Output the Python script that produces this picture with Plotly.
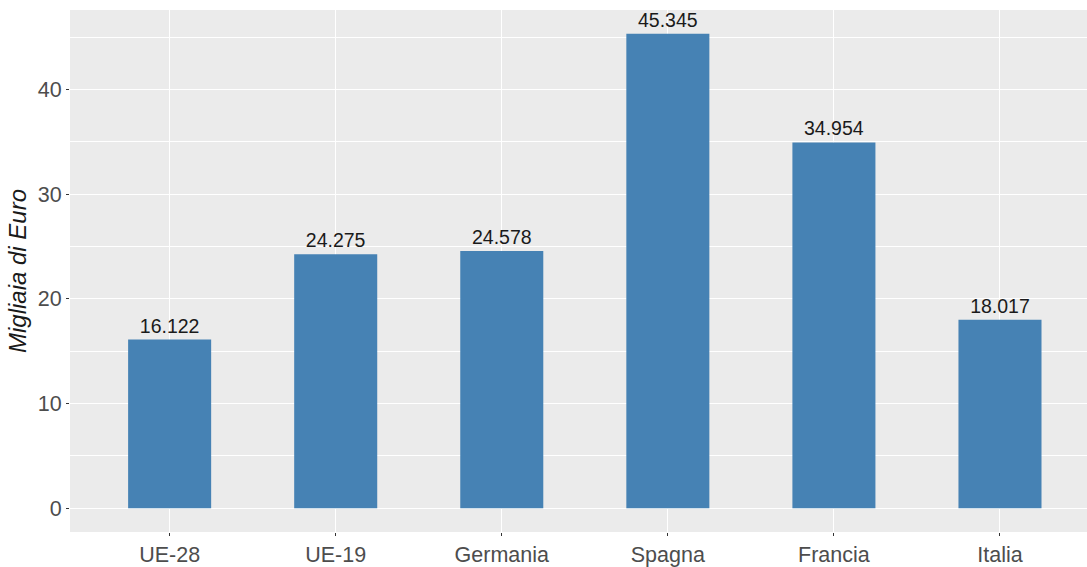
import plotly.graph_objects as go

# Reddito medio per paese (migliaia di euro)
paesi = ["UE-28", "UE-19", "Germania", "Spagna", "Francia", "Italia"]
valori = [16.122, 24.275, 24.578, 45.345, 34.954, 18.017]
etichette = ["16.122", "24.275", "24.578", "45.345", "34.954", "18.017"]
tick_y = [0, 10, 20, 30, 40]

fig = go.Figure(
    go.Bar(
        x=paesi,
        y=valori,
        width=0.5,
        marker=dict(color="#4682B4", line=dict(width=0)),
        text=etichette,
        textposition="outside",
        textfont=dict(family="Liberation Sans, Arial, sans-serif", size=19.5, color="#1a1a1a"),
        cliponaxis=False,
        hoverinfo="x+y",
    )
)

fig.update_layout(
    width=1087,
    height=567,
    margin=dict(l=70, r=0, t=10, b=27),
    paper_bgcolor="white",
    plot_bgcolor="#EBEBEB",
    showlegend=False,
    font=dict(family="Liberation Sans, Arial, sans-serif"),
)

fig.update_xaxes(
    range=[-0.6, 5.524],
    showgrid=True,
    gridcolor="white",
    gridwidth=1.3,
    ticks="outside",
    ticklen=3,
    tickcolor="#333333",
    tickfont=dict(size=21.5, color="#4D4D4D"),
    zeroline=False,
    showline=False,
)

fig.update_yaxes(
    range=[-2.267, 47.61],
    tickvals=tick_y,
    showgrid=True,
    gridcolor="white",
    gridwidth=1.3,
    minor=dict(dtick=5, showgrid=True, gridcolor="white", gridwidth=0.6, ticks=""),
    ticks="outside",
    ticklen=3,
    tickcolor="#333333",
    tickfont=dict(size=21.5, color="#4D4D4D"),
    zeroline=False,
    showline=False,
    title=dict(
        text="<i>Migliaia di Euro</i>",
        font=dict(size=24, color="#1a1a1a"),
        standoff=4,
    ),
)

fig.write_html("out.html")
